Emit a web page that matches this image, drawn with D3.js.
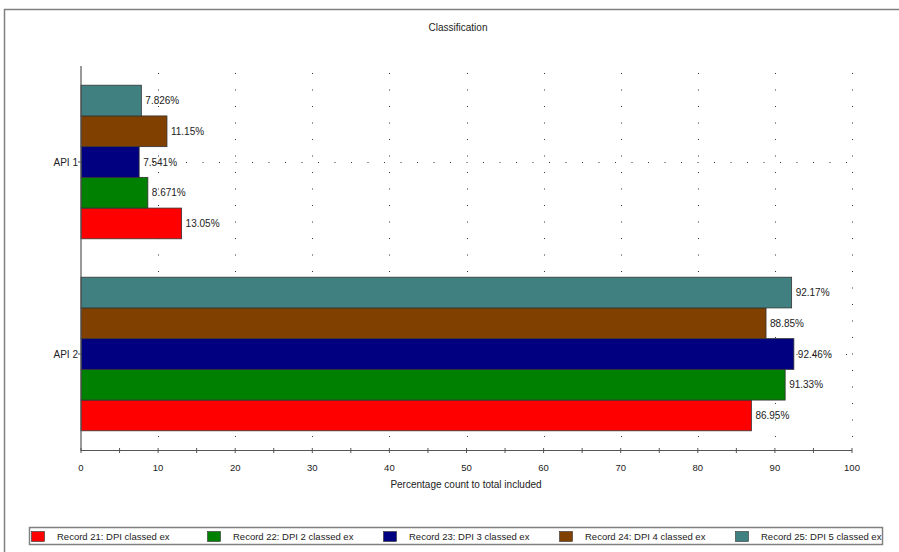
<!DOCTYPE html>
<html><head><meta charset="utf-8">
<script src="https://cdn.jsdelivr.net/npm/d3@7"></script>
<style>body{margin:0;background:#fff;} text{font-family:"Liberation Sans",Arial,sans-serif;fill:#222;}</style>
</head><body><svg id="c" width="899" height="552"></svg>
<script>
const categories = ["API 1", "API 2"];
const seriesNames = ["Record 21: DPI classed ex","Record 22: DPI 2 classed ex","Record 23: DPI 3 classed ex","Record 24: DPI 4 classed ex","Record 25: DPI 5 classed ex"];
const seriesColors = ["#ff0000","#008000","#000080","#804000","#408080"];
const api1Values = [13.05, 8.671, 7.541, 11.15, 7.826];
const api2Values = [86.95, 91.33, 92.46, 88.85, 92.17];
const valueLabels1 = ["13.05%","8.671%","7.541%","11.15%","7.826%"];
const valueLabels2 = ["86.95%","91.33%","92.46%","88.85%","92.17%"];
const xTicks = [0,10,20,30,40,50,60,70,80,90,100];

const svg = d3.select("#c");
// outer frame
svg.append("path").attr("d","M4.5,560V9.5H905").attr("fill","none").attr("stroke","#808080").attr("stroke-width",1.5);
svg.append("text").attr("x",458).attr("y",31).attr("text-anchor","middle").attr("font-size",10).text("Classification");

const x = d3.scaleLinear().domain([0,100]).range([81,852]);
const y = d3.scaleBand().domain(categories).range([66,450]).paddingInner(0.2).paddingOuter(0.1);
const yi = d3.scaleBand().domain(d3.range(5).reverse()).range([0,y.bandwidth()]);

const data = [];
categories.forEach((c,ci)=>{
  const vals = ci===0?api1Values:api2Values;
  const labs = ci===0?valueLabels1:valueLabels2;
  vals.forEach((v,si)=>data.push({c,si,v,lab:labs[si]}));
});

// gridlines
const g = svg.append("g");
g.selectAll("line.vg").data(xTicks.slice(1)).join("line")
  .attr("x1",d=>Math.round(x(d))+0.5).attr("x2",d=>Math.round(x(d))+0.5)
  .attr("y1",73).attr("y2",450).attr("stroke","#333").attr("stroke-dasharray","1,15.5");
g.selectAll("line.hg").data(categories).join("line")
  .attr("x1",81).attr("x2",852).attr("y1",d=>Math.round(y(d)+y.bandwidth()/2)+0.5).attr("y2",d=>Math.round(y(d)+y.bandwidth()/2)+0.5)
  .attr("stroke","#333").attr("stroke-dasharray","1,15.5").attr("stroke-dashoffset",-6);

// bars
svg.append("g").selectAll("rect").data(data).join("rect")
  .attr("x",x(0)).attr("y",d=>y(d.c)+yi(d.si))
  .attr("width",d=>x(d.v)-x(0)).attr("height",yi.bandwidth())
  .attr("fill",d=>seriesColors[d.si]).attr("stroke","#333").attr("stroke-width",0.8);
svg.append("g").selectAll("text").data(data).join("text")
  .attr("x",d=>x(d.v)+4).attr("y",d=>y(d.c)+yi(d.si)+yi.bandwidth()/2+3.5)
  .attr("font-size",10).text(d=>d.lab);

// x axis
const ax = svg.append("g").attr("transform","translate(0,450.5)");
ax.append("line").attr("x1",81).attr("x2",852).attr("stroke","#555").attr("stroke-width",1.2);
ax.selectAll("line.t").data(d3.range(0,101,5)).join("line")
  .attr("x1",d=>x(d)).attr("x2",d=>x(d)).attr("y1",-2.5).attr("y2",2.5).attr("stroke","#555");
ax.selectAll("text").data(xTicks).join("text")
  .attr("x",d=>x(d)).attr("y",20).attr("text-anchor","middle").attr("font-size",9.5).text(d=>d);
svg.append("text").attr("x",466).attr("y",488).attr("text-anchor","middle").attr("font-size",10).text("Percentage count to total included");

// y axis
svg.append("line").attr("x1",81).attr("x2",81).attr("y1",66).attr("y2",451).attr("stroke","#555").attr("stroke-width",1.2);
svg.append("g").selectAll("line").data(categories).join("line")
  .attr("x1",78).attr("x2",81).attr("y1",d=>y(d)+y.bandwidth()/2).attr("y2",d=>y(d)+y.bandwidth()/2).attr("stroke","#555");
svg.append("g").selectAll("text").data(categories).join("text")
  .attr("x",78).attr("y",d=>y(d)+y.bandwidth()/2+3.5).attr("text-anchor","end").attr("font-size",10).text(d=>d);

// legend
const lg = svg.append("g");
lg.append("rect").attr("x",29.5).attr("y",527.5).attr("width",853).attr("height",17).attr("fill","#fff").attr("stroke","#808080").attr("stroke-width",1.5);
const item = lg.selectAll("g").data(seriesNames).join("g").attr("transform",(d,i)=>`translate(${31+i*176},0)`);
item.append("rect").attr("x",0.5).attr("y",531.5).attr("width",13).attr("height",10).attr("fill",(d,i)=>seriesColors[i]).attr("stroke","#333").attr("stroke-width",0.6);
item.append("text").attr("x",26).attr("y",539.5).attr("font-size",9.5).text(d=>d);
</script></body></html>
